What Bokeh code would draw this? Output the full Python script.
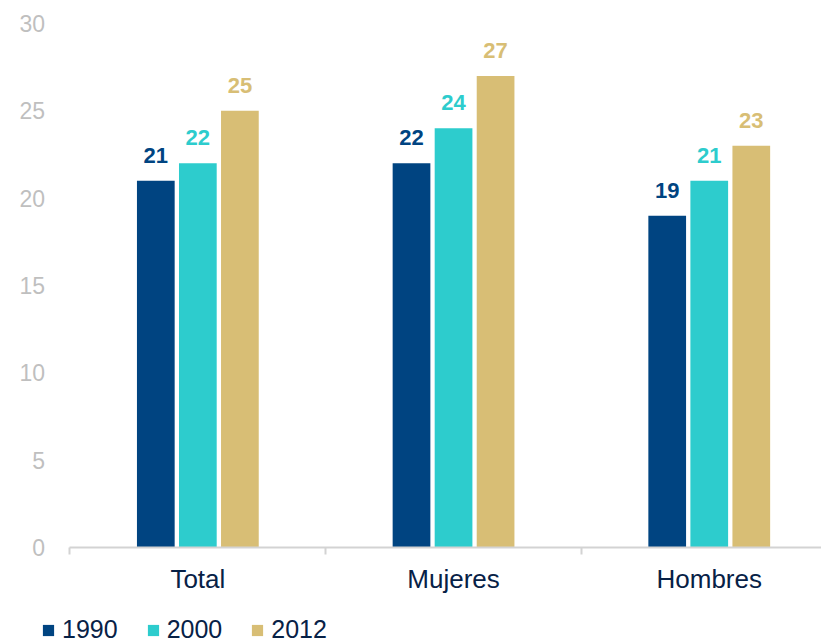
from bokeh.plotting import figure
from bokeh.models import ColumnDataSource, Range1d, FixedTicker, Legend, LegendItem, LabelSet, LinearAxis
from bokeh.core.properties import value
from bokeh.embed import file_html
from bokeh.resources import INLINE

categories = ["Total", "Mujeres", "Hombres"]
years = ["1990", "2000", "2012"]
v1990 = [21, 22, 19]
v2000 = [22, 24, 21]
v2012 = [25, 27, 23]
series = [v1990, v2000, v2012]
colors = ["#004481", "#2DCCCD", "#D8BE75"]
y_ticks = [0, 5, 10, 15, 20, 25, 30]

FONT = "Liberation Sans"
NAVY = "#072146"

p = figure(width=821, height=643, frame_width=821, frame_height=643,
           output_backend="svg", toolbar_location=None,
           x_axis_location=None, y_axis_location=None,
           x_range=Range1d(-0.2718, 2.939), y_range=Range1d(-5.495, 31.317),
           min_border_left=0, min_border_right=0, min_border_top=0, min_border_bottom=0)
p.outline_line_color = None
p.grid.grid_line_color = None
p.background_fill_color = "white"
p.border_fill_color = "white"

pitch = 0.1644
bw = 0.1475
renderers = []
for i, (vals, col, yr) in enumerate(zip(series, colors, years)):
    xs = [k + 0.5 + (i - 1) * pitch for k in range(len(categories))]
    src = ColumnDataSource(dict(x=xs, top=vals, lab=[str(v) for v in vals]))
    r = p.vbar(x="x", top="top", width=bw, bottom=0, source=src,
               fill_color=col, line_color=None)
    renderers.append((yr, r))
    lbl = LabelSet(x="x", y="top", text="lab", source=src, text_align="center",
                   text_baseline="alphabetic", y_offset=18,
                   text_font=value(FONT), text_font_size="22px",
                   text_font_style="bold", text_color=col)
    p.add_layout(lbl)

# x axis, drawn at y = 0
xt = FixedTicker(ticks=[k + 0.5 for k in range(len(categories))],
                 minor_ticks=list(range(len(categories) + 1)))
xaxis = LinearAxis(ticker=xt, fixed_location=0, bounds=(0, len(categories)))
xaxis.major_label_overrides = {k + 0.5: c for k, c in enumerate(categories)}
xaxis.major_tick_line_color = None
xaxis.major_tick_out = 0
xaxis.major_tick_in = 0
xaxis.minor_tick_line_color = "#D3D3D3"
xaxis.minor_tick_line_width = 2
xaxis.minor_tick_out = 7
xaxis.minor_tick_in = 0
xaxis.axis_line_color = "#D3D3D3"
xaxis.axis_line_width = 2
xaxis.major_label_text_font = FONT
xaxis.major_label_text_font_size = "26px"
xaxis.major_label_text_color = NAVY
xaxis.major_label_standoff = 9
p.add_layout(xaxis, "below")

# y axis, drawn at x = 0
yaxis = LinearAxis(ticker=FixedTicker(ticks=y_ticks), fixed_location=0)
yaxis.axis_line_color = None
yaxis.major_tick_line_color = None
yaxis.minor_tick_line_color = None
yaxis.major_tick_out = 0
yaxis.major_tick_in = 0
yaxis.major_label_text_font = FONT
yaxis.major_label_text_font_size = "23px"
yaxis.major_label_text_color = "#BFBFBF"
yaxis.major_label_standoff = 25
p.add_layout(yaxis, "left")

legend = Legend(items=[LegendItem(label=yr, renderers=[r]) for yr, r in renderers],
                orientation="horizontal", location=(41, -1),
                glyph_width=14, glyph_height=14, label_standoff=7, spacing=28,
                padding=0, margin=0, border_line_color=None, background_fill_alpha=0,
                label_height=14, label_text_font=FONT, label_text_font_size="25px",
                label_text_color=NAVY)
p.add_layout(legend, "center")

open("out.html", "w").write(file_html(p, INLINE))
